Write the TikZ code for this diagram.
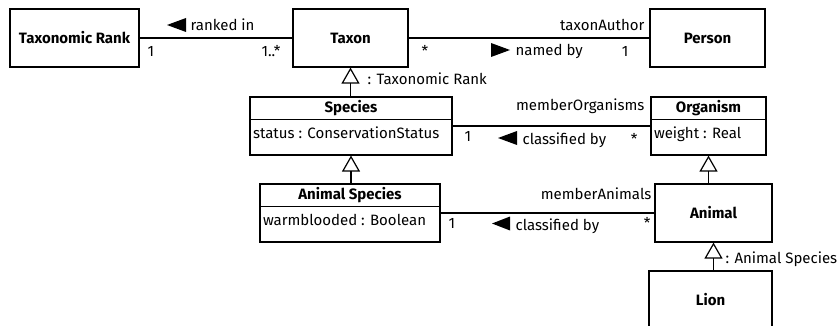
\documentclass[tikz,border=0pt]{standalone}
\usepackage{fontspec}
\setmainfont{Fira Sans}
\usetikzlibrary{arrows.meta,calc}

\begin{document}
\begin{tikzpicture}[x=1pt, y=-1pt, line width=1.2pt,
    font=\fontsize{15}{17}\selectfont,
    classbox/.style={draw, minimum height=58, inner sep=0, font=\fontsize{15}{17}\selectfont\bfseries},
    classname/.style={inner sep=0, font=\fontsize{15}{17}\selectfont\bfseries},
    lbl/.style={inner sep=0},
    gen/.style={-{Triangle[open, length=16pt, width=18pt]}}]
    \useasboundingbox (0,0) rectangle (840,326);

    % Macro for a class with one attribute
    % \drawclass{name}{centre}{width}{title}{attribute}
    \newcommand{\drawclass}[5]{
        \node[classbox, minimum width=#3] (#1) at (#2) {};
        \node[classname, anchor=north, minimum height=22] (#1-name) at (#1.north) {#4};
        \draw (#1-name.south -| #1.west) -- (#1-name.south -| #1.east);
        \node[lbl, anchor=base west] (#1-attr) at ($(#1-name.south -| #1.west)+(3,19)$) {#5};
    }

    % 1. Classes
    \node[classbox, minimum width=129] (trank) at (74.5,38) {Taxonomic Rank};
    \node[classbox, minimum width=115] (taxon) at (350.5,38) {Taxon};
    \node[classbox, minimum width=115] (person) at (707.5,38) {Person};

    \drawclass{species}{351,126}{202}{Species}{status : ConservationStatus}
    \drawclass{organism}{708.5,126}{115}{Organism}{weight : Real}
    \drawclass{aspecies}{350,213}{180}{Animal Species}{warmblooded : Boolean}

    \node[classbox, minimum width=117] (animal) at (713.5,213) {Animal};
    \node[classbox, minimum width=123] (lion) at (710.5,300) {Lion};

    % 2. Associations
    \draw (trank) -- (taxon);
    \draw (taxon) -- (person);
    \draw (species) -- (organism);
    \draw (aspecies) -- (animal);

    % ranked in
    \fill (167,25) -- (186,18) -- (186,32) -- cycle;
    \node[lbl, anchor=base west] (rankedin) at (190,31) {ranked in};
    \node[lbl, anchor=base west] (trank-mult) at (147,57) {1};
    \node[lbl, anchor=base east] (taxon-mult) at (281,57) {1..*};

    % named by
    \node[lbl, anchor=base east] (author) at (645,31) {taxonAuthor};
    \node[lbl, anchor=base west] (author-mult) at (421,57) {*};
    \fill (491,43) -- (510,50) -- (491,57) -- cycle;
    \node[lbl, anchor=base west] (namedby) at (515,56) {named by};
    \node[lbl, anchor=base east] (person-mult) at (629,57) {1};

    % classified by (Organism)
    \node[lbl, anchor=base east] (members) at (645,111) {memberOrganisms};
    \node[lbl, anchor=base west] (species-mult) at (464,142) {1};
    \fill (498,138) -- (517,131) -- (517,145) -- cycle;
    \node[lbl, anchor=base west] (classified) at (522,144) {classified by};
    \node[lbl, anchor=base east] (organism-mult) at (638,144) {*};

    % classified by (Animal)
    \node[lbl, anchor=base east] (animals) at (652,199) {memberAnimals};
    \node[lbl, anchor=base west] (aspecies-mult) at (448,228) {1};
    \fill (492,223.5) -- (510,216.5) -- (510,230.5) -- cycle;
    \node[lbl, anchor=base west] (aclassified) at (515,230) {classified by};
    \node[lbl, anchor=base east] (animal-mult) at (651,228) {*};

    % 3. Generalizations
    \draw[gen] (species.north -| taxon.south) -- (taxon.south);
    \node[lbl, anchor=base west] (taxon-rank) at (367,85) {: Taxonomic Rank};
    \draw[gen] (aspecies.north -| species.south) -- (species.south);
    \draw[gen] (animal.north -| organism.south) -- (organism.south);
    \draw[gen] (lion.north -| animal.south) -- (animal.south);
    \node[lbl, anchor=base west] (lion-rank) at (725,263) {: Animal Species};

\end{tikzpicture}
\end{document}
